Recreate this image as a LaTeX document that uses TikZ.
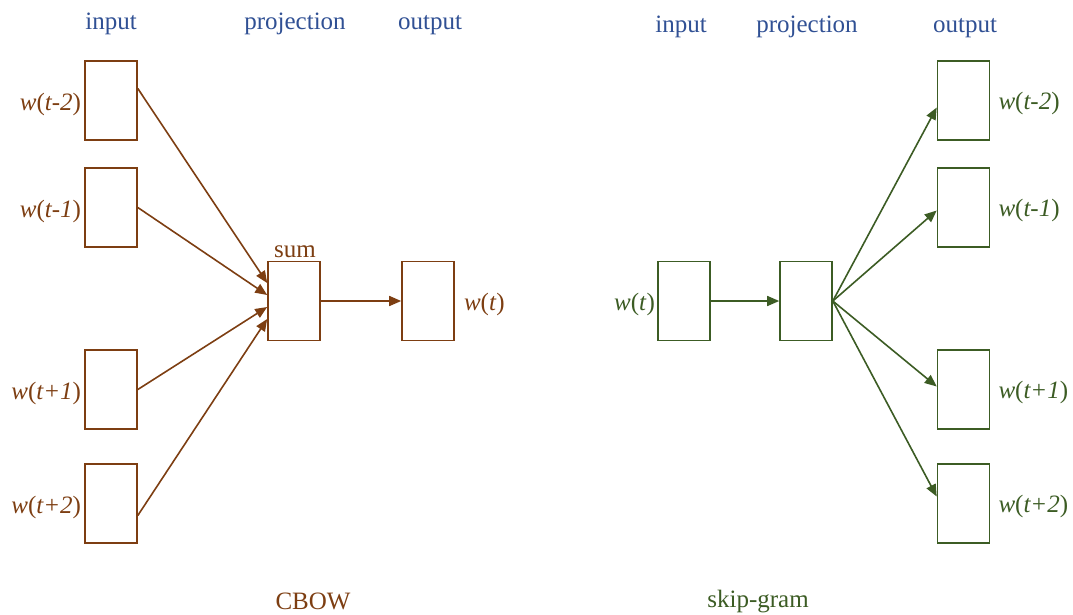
\documentclass[tikz,border=0pt]{standalone}
\usepackage{fontspec}
\setmainfont{Liberation Serif}
\usetikzlibrary{arrows.meta}
\definecolor{cbow}{RGB}{125,62,18}
\definecolor{skip}{RGB}{60,92,36}
\definecolor{head}{RGB}{48,80,148}

\begin{document}
\begin{tikzpicture}[x=1pt, y=-1pt, font=\fontsize{25}{30}\selectfont,
        word/.style = {draw, line width=1.6pt, minimum width=52pt, minimum height=79pt, inner sep=0pt},
        heading/.style = {text=head, anchor=base},
        tag/.style = {inner sep=0pt},
        link/.style = {line width=1.6pt, -{Triangle[length=12pt,width=10pt]}}]
    \useasboundingbox (0,0) rectangle (1073,614);

    % CBOW
    \begin{scope}[color=cbow]
        \node[heading] (cin) at (111,29) {input};
        \node[heading] (cproj) at (295,29) {projection};
        \node[heading] (cout) at (430,29) {output};
        \node[word] (c1) at (111,100.5) {};
        \node[word] (c2) at (111,207.5) {};
        \node[word] (c3) at (111,389.5) {};
        \node[word] (c4) at (111,503.5) {};
        \node[word] (csum) at (294,301) {};
        \node[word] (cw) at (428,301) {};
        \node[tag, anchor=base east] (cl1) at ([xshift=-3pt,yshift=-10pt]c1.west) {\textit{w}(\textit{t-2})};
        \node[tag, anchor=base east] (cl2) at ([xshift=-3pt,yshift=-10pt]c2.west) {\textit{w}(\textit{t-1})};
        \node[tag, anchor=base east] (cl3) at ([xshift=-3pt,yshift=-10pt]c3.west) {\textit{w}(\textit{t+1})};
        \node[tag, anchor=base east] (cl4) at ([xshift=-3pt,yshift=-10pt]c4.west) {\textit{w}(\textit{t+2})};
        \node[tag, anchor=base] (sumlabel) at (295,257) {sum};
        \node[tag, anchor=base west] (cwl) at ([xshift=9pt,yshift=-9pt]cw.east) {\textit{w}(\textit{t})};
        \node[tag, anchor=base] (cname) at (313,609) {CBOW};
        \draw[link] ([yshift=12pt]c1.east) -- ([yshift=18pt]csum.west);
        \draw[link] (c2.east) -- ([yshift=6pt]csum.west);
        \draw[link] (c3.east) -- ([yshift=-6pt]csum.west);
        \draw[link] ([yshift=-12pt]c4.east) -- ([yshift=-18pt]csum.west);
        \draw[link] (csum.east) -- (cw.west);
    \end{scope}

    % skip-gram
    \begin{scope}[color=skip]
        \node[heading] (sin) at (681,32) {input};
        \node[heading] (sproj) at (807,32) {projection};
        \node[heading] (sout) at (965,32) {output};
        \node[word] (sw) at (684,301) {};
        \node[word] (sproj box) at (806,301) {};
        \node[word] (s1) at (963.5,100.5) {};
        \node[word] (s2) at (963.5,207.5) {};
        \node[word] (s3) at (963.5,389.5) {};
        \node[word] (s4) at (963.5,503.5) {};
        \node[tag, anchor=base east] (swl) at ([xshift=-2pt,yshift=-9pt]sw.west) {\textit{w}(\textit{t})};
        \node[tag, anchor=base west] (sl1) at ([xshift=8pt,yshift=-9pt]s1.east) {\textit{w}(\textit{t-2})};
        \node[tag, anchor=base west] (sl2) at ([xshift=8pt,yshift=-9pt]s2.east) {\textit{w}(\textit{t-1})};
        \node[tag, anchor=base west] (sl3) at ([xshift=8pt,yshift=-9pt]s3.east) {\textit{w}(\textit{t+1})};
        \node[tag, anchor=base west] (sl4) at ([xshift=8pt,yshift=-9pt]s4.east) {\textit{w}(\textit{t+2})};
        \node[tag, anchor=base] (sname) at (758,607) {skip-gram};
        \draw[link] (sw.east) -- (sproj box.west);
        \draw[link] (sproj box.east) -- ([yshift=-7pt]s1.west);
        \draw[link] (sproj box.east) -- ([yshift=-3pt]s2.west);
        \draw[link] (sproj box.east) -- ([yshift=3pt]s3.west);
        \draw[link] (sproj box.east) -- ([yshift=7pt]s4.west);
    \end{scope}
\end{tikzpicture}
\end{document}
